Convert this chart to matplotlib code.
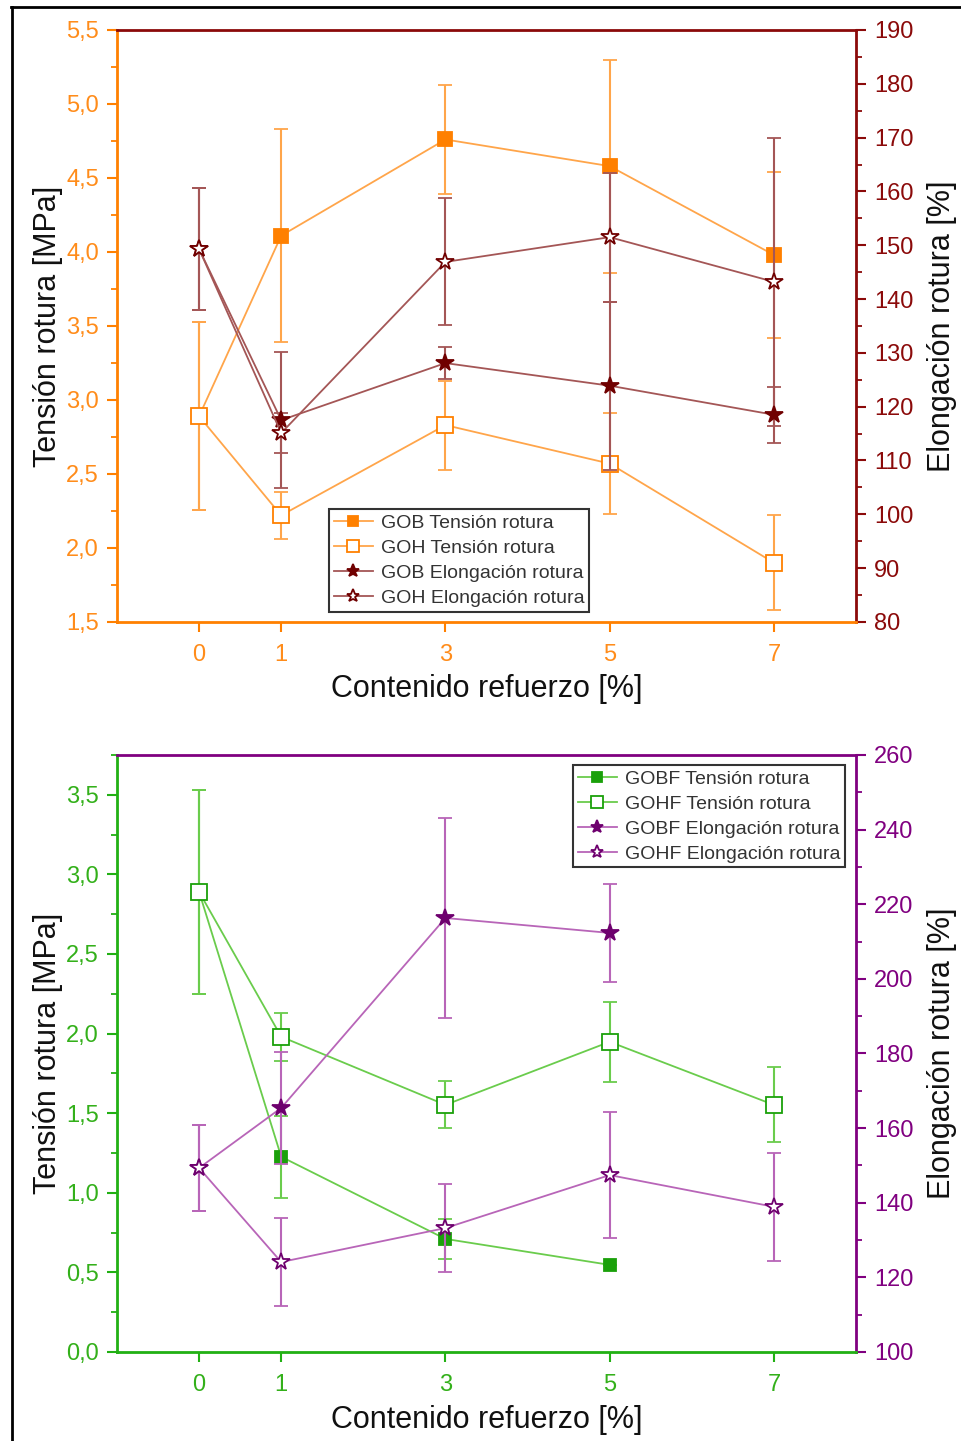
import matplotlib
matplotlib.use('Agg')
import matplotlib.pyplot as plt
from matplotlib.ticker import FixedLocator, MultipleLocator, FuncFormatter
from matplotlib.lines import Line2D

plt.rcParams['font.family'] = ['Liberation Sans', 'DejaVu Sans']

# ---- data, top panel (GOB / GOH) ----
x_top = [0, 1, 3, 5, 7]
gob_ten = [2.89, 4.11, 4.76, 4.58, 3.98]
gob_ten_err = [0.635, 0.72, 0.37, 0.72, 0.56]
goh_ten = [2.89, 2.22, 2.83, 2.57, 1.90]
goh_ten_err = [0.635, 0.16, 0.30, 0.34, 0.32]
gob_elo = [149.3, 117.5, 128.1, 123.9, 118.5]
gob_elo_err = [11.4, 12.7, 3.0, 15.6, 5.2]
goh_elo = [149.3, 115.1, 146.9, 151.5, 143.2]
goh_elo_err = [11.4, 3.8, 11.8, 12.0, 26.7]

# ---- data, bottom panel (GOBF / GOHF) ----
x_bf = [0, 1, 3, 5]
x_hf = [0, 1, 3, 5, 7]
gobf_ten = [2.89, 1.226, 0.71, 0.547]
gobf_ten_err = [0.64, 0.258, 0.125, 0.0]
gohf_ten = [2.89, 1.98, 1.552, 1.948, 1.552]
gohf_ten_err = [0.64, 0.15, 0.147, 0.25, 0.235]
gobf_elo = [149.3, 165.4, 216.3, 212.3]
gobf_elo_err = [11.5, 15.0, 26.8, 13.1]
gohf_elo = [149.3, 124.1, 133.2, 147.4, 138.9]
gohf_elo_err = [11.5, 11.7, 11.9, 16.9, 14.4]

xticks = [0, 1, 3, 5, 7]
xlabel = 'Contenido refuerzo [%]'
ylabel_l = 'Tensión rotura [MPa]'
ylabel_r = 'Elongación rotura [%]'

ORANGE = '#FF8000'
ORANGE_L = '#FFA54A'
DRED = '#8B0A0A'
DRED_L = '#A45656'
DRED_M = '#700000'
GREEN = '#22B014'
GREEN_L = '#6ACC4C'
GREEN_M = '#1AA00A'
PURPLE = '#800080'
PURPLE_L = '#B865B8'
PURPLE_M = '#6E006E'

TICK_FS = 17
LABEL_FS = 22
LEG_FS = 14

comma = FuncFormatter(lambda v, p: f'{v:.1f}'.replace('.', ','))

fig = plt.figure(figsize=(9.62, 14.41), dpi=100)
ax1 = fig.add_axes([0.1216, 0.5684, 0.7682, 0.4108])
ax2 = fig.add_axes([0.1216, 0.0618, 0.7682, 0.4143])


def eb(ax, x, y, e, col, mcol, marker, filled, ms, label):
    c = ax.errorbar(x, y, yerr=e, color=col, ecolor=col, lw=1.3, elinewidth=1.5,
                    capsize=5, capthick=1.5, marker=marker, ms=ms,
                    mfc=mcol if filled else 'white', mec=mcol, mew=1.3)
    return c[0], label


def style(ax, axr, lcol, rcol, tlcol, trcol):
    ax.set_xlim(-1, 8)
    ax.xaxis.set_major_locator(FixedLocator(xticks))
    ax.tick_params(axis='x', direction='out', length=7, width=1.5, colors=lcol,
                   labelsize=TICK_FS, pad=9)
    ax.tick_params(axis='y', which='major', direction='out', length=7, width=1.5,
                   colors=lcol, labelsize=TICK_FS, pad=6)
    ax.tick_params(axis='y', which='minor', direction='out', length=4, width=1.3, colors=lcol)
    for lab in ax.get_xticklabels() + ax.get_yticklabels():
        lab.set_color(tlcol)
    axr.tick_params(axis='y', which='major', direction='out', length=7, width=1.5,
                    colors=rcol, labelsize=TICK_FS, pad=6)
    axr.tick_params(axis='y', which='minor', direction='out', length=4, width=1.3, colors=rcol)
    for lab in axr.get_yticklabels():
        lab.set_color(trcol)
    ax.spines['left'].set_color(lcol)
    ax.spines['bottom'].set_color(lcol)
    axr.spines['left'].set_color(lcol)
    axr.spines['bottom'].set_color(lcol)
    axr.spines['right'].set_color(rcol)
    axr.spines['top'].set_color(rcol)
    ax.spines['top'].set_visible(False)
    ax.spines['right'].set_visible(False)
    for s in axr.spines.values():
        s.set_linewidth(2)
    ax.set_xlabel(xlabel, fontsize=LABEL_FS, color='#111111', labelpad=6)
    ax.set_ylabel(ylabel_l, fontsize=LABEL_FS, color='#111111', labelpad=2)
    axr.set_ylabel(ylabel_r, fontsize=LABEL_FS, color='#111111', labelpad=10)


def legend(axr, items, **kw):
    leg = axr.legend([h for h, _ in items], [l for _, l in items], fontsize=LEG_FS,
                     frameon=True, fancybox=False, edgecolor='#333333', framealpha=1,
                     handlelength=2.0, handletextpad=0.4, borderpad=0.25, labelspacing=0.38,
                     borderaxespad=0, markerscale=0.75, **kw)
    leg.get_frame().set_linewidth(1.5)
    for t in leg.get_texts():
        t.set_color('#333333')


# ---- top panel ----
ax1r = ax1.twinx()
items = [
    eb(ax1, x_top, gob_ten, gob_ten_err, ORANGE_L, ORANGE, 's', True, 10, 'GOB Tensión rotura'),
    eb(ax1, x_top, goh_ten, goh_ten_err, ORANGE_L, ORANGE, 's', False, 11, 'GOH Tensión rotura'),
    eb(ax1r, x_top, gob_elo, gob_elo_err, DRED_L, DRED_M, '*', True, 13, 'GOB Elongación rotura'),
    eb(ax1r, x_top, goh_elo, goh_elo_err, DRED_L, DRED_M, '*', False, 13, 'GOH Elongación rotura'),
]
ax1.set_ylim(1.5, 5.5)
ax1.yaxis.set_major_locator(MultipleLocator(0.5))
ax1.yaxis.set_minor_locator(MultipleLocator(0.25))
ax1.yaxis.set_major_formatter(comma)
ax1r.set_ylim(80, 190)
ax1r.yaxis.set_major_locator(MultipleLocator(10))
ax1r.yaxis.set_minor_locator(MultipleLocator(5))
style(ax1, ax1r, ORANGE, DRED, '#FF8C1A', DRED)
legend(ax1r, items, loc='upper left', bbox_to_anchor=(0.287, 0.19))

# ---- bottom panel ----
ax2r = ax2.twinx()
items = [
    eb(ax2, x_bf, gobf_ten, gobf_ten_err, GREEN_L, GREEN_M, 's', True, 9, 'GOBF Tensión rotura'),
    eb(ax2, x_hf, gohf_ten, gohf_ten_err, GREEN_L, GREEN_M, 's', False, 11, 'GOHF Tensión rotura'),
    eb(ax2r, x_bf, gobf_elo, gobf_elo_err, PURPLE_L, PURPLE_M, '*', True, 13, 'GOBF Elongación rotura'),
    eb(ax2r, x_hf, gohf_elo, gohf_elo_err, PURPLE_L, PURPLE_M, '*', False, 13, 'GOHF Elongación rotura'),
]
ax2.set_ylim(0, 3.75)
ax2.yaxis.set_major_locator(FixedLocator([0, 0.5, 1.0, 1.5, 2.0, 2.5, 3.0, 3.5]))
ax2.yaxis.set_minor_locator(MultipleLocator(0.25))
ax2.yaxis.set_major_formatter(comma)
ax2r.set_ylim(100, 260)
ax2r.yaxis.set_major_locator(MultipleLocator(20))
ax2r.yaxis.set_minor_locator(MultipleLocator(10))
style(ax2, ax2r, GREEN, PURPLE, '#33B01A', PURPLE)
legend(ax2r, items, loc='upper right', bbox_to_anchor=(0.985, 0.983))

# black frame of the scanned figure (left and top edges)
fig.add_artist(Line2D([0.012, 0.012], [0, 0.995], transform=fig.transFigure, color='black', lw=2))
fig.add_artist(Line2D([0.011, 1.0], [0.995, 0.995], transform=fig.transFigure, color='black', lw=2))

fig.savefig('out.png', dpi=100, facecolor='white')
